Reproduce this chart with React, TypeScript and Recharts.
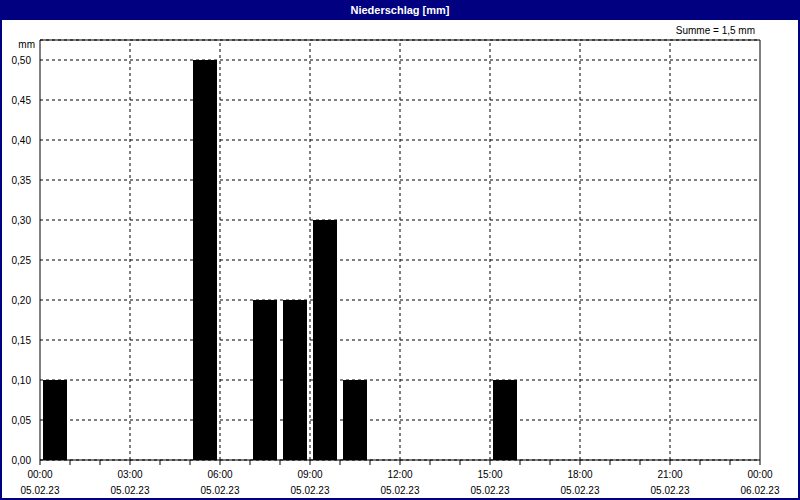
import React from "react";
import { BarChart, Bar, XAxis, YAxis, CartesianGrid, ReferenceLine } from "recharts";

// hourly precipitation on 05.02.23, hour = middle of the interval
const hours = [0.5, 5.5, 7.5, 8.5, 9.5, 10.5, 15.5];
const amounts = [0.1, 0.5, 0.2, 0.2, 0.3, 0.1, 0.1];

const xTicks = [0, 1, 2, 3, 4, 5, 6, 7, 8, 9, 10, 11, 12, 13, 14, 15, 16, 17, 18, 19, 20, 21, 22, 23, 24];
const gridHours = [3, 6, 9, 12, 15, 18, 21];
const yTicks = [0, 0.05, 0.1, 0.15, 0.2, 0.25, 0.3, 0.35, 0.4, 0.45, 0.5];
const timeLabels: Record<number, [string, string]> = {
  0: ["00:00", "05.02.23"],
  3: ["03:00", "05.02.23"],
  6: ["06:00", "05.02.23"],
  9: ["09:00", "05.02.23"],
  12: ["12:00", "05.02.23"],
  15: ["15:00", "05.02.23"],
  18: ["18:00", "05.02.23"],
  21: ["21:00", "05.02.23"],
  24: ["00:00", "06.02.23"],
};

const data = hours.map((h, i) => ({ hour: h, amount: amounts[i] }));

const font = "'Liberation Sans', Arial, sans-serif";
const navy = "#000080";

const XTick = (props: any) => {
  const { x, y, payload } = props;
  const lbl = timeLabels[payload.value];
  return (
    <g>
      <line x1={x} y1={y - 8} x2={x} y2={y - 3} stroke="#000" />
      {lbl && (
        <text x={x} y={y + 10} textAnchor="middle" fontSize={10} fontFamily={font} fill="#000">
          <tspan x={x}>{lbl[0]}</tspan>
          <tspan x={x} dy={16}>{lbl[1]}</tspan>
        </text>
      )}
    </g>
  );
};

const App: React.FC = () => {
  return (
    <div style={{ position: "absolute", left: 0, top: 0, width: 800, height: 500, background: "#fff" }}>
      <BarChart
        width={800}
        height={500}
        data={data}
        margin={{ top: 40, right: 40, left: 0, bottom: 0 }}
        style={{ position: "absolute", left: 0, top: 0 }}
      >
        <CartesianGrid horizontal vertical={false} stroke="#000" strokeDasharray="3 3" />
        {gridHours.map((h) => (
          <ReferenceLine key={h} x={h} stroke="#000" strokeDasharray="3 3" />
        ))}
        <XAxis
          dataKey="hour"
          type="number"
          domain={[0, 24]}
          ticks={xTicks}
          interval={0}
          height={40}
          stroke="#000"
          tickLine={false}
          tick={<XTick />}
          allowDataOverflow
        />
        <YAxis
          type="number"
          domain={[0, 0.525]}
          ticks={yTicks}
          interval={0}
          width={40}
          stroke="#000"
          tickLine={false}
          tickFormatter={(v: number) => v.toFixed(2).replace(".", ",")}
          tick={{ fontSize: 10, fontFamily: font, fill: "#000" }}
          tickMargin={3}
          allowDataOverflow
        />
        <Bar dataKey="amount" fill="#000" barSize={24} isAnimationActive={false} />
        <ReferenceLine y={0.525} stroke="#000" />
        <ReferenceLine x={24} stroke="#000" />
      </BarChart>
      <div
        style={{
          position: "absolute", left: 0, top: 0, width: 800, height: 20, background: navy,
          color: "#fff", fontFamily: font, fontWeight: "bold", fontSize: 11,
          lineHeight: "20px", textAlign: "center",
        }}
      >
        Niederschlag [mm]
      </div>
      <div style={{ position: "absolute", right: 45, top: 25, fontFamily: font, fontSize: 10, color: "#000" }}>
        Summe = 1,5 mm
      </div>
      <div style={{ position: "absolute", right: 765, top: 39, fontFamily: font, fontSize: 10, color: "#000" }}>
        mm
      </div>
      <div
        style={{
          position: "absolute", left: 0, top: 0, width: 800, height: 500, boxSizing: "border-box",
          border: `2px solid ${navy}`, pointerEvents: "none",
        }}
      />
    </div>
  );
};

export default App;
